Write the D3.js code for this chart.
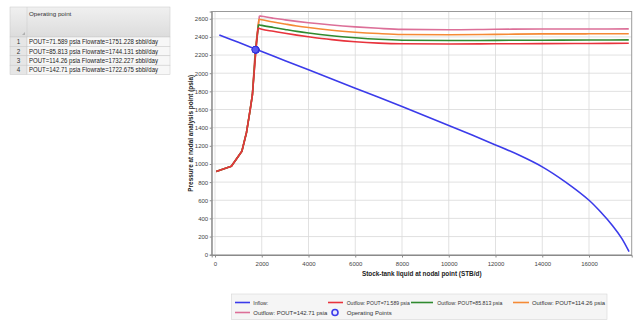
<!DOCTYPE html>
<html>
<head>
<meta charset="utf-8">
<script src="https://cdn.jsdelivr.net/npm/d3@7"></script>
<style>
  html, body { margin: 0; padding: 0; background: #ffffff; }
  svg { display: block; }
  text { font-family: "Liberation Sans", "DejaVu Sans", sans-serif; }
</style>
</head>
<body>
<svg id="chart" width="640" height="325"></svg>
<script>
// ---- data ----
const tableRows = [
  "POUT=71.589 psia Flowrate=1751.228 sbbl/day",
  "POUT=85.813 psia Flowrate=1744.131 sbbl/day",
  "POUT=114.26 psia Flowrate=1732.227 sbbl/day",
  "POUT=142.71 psia Flowrate=1722.675 sbbl/day"
];

const xTicks = [0, 2000, 4000, 6000, 8000, 10000, 12000, 14000, 16000];
const yTicks = [0, 200, 400, 600, 800, 1000, 1200, 1400, 1600, 1800, 2000, 2200, 2400, 2600];

// inflow (IPR): [rate STB/d, pressure psia]
const inflow = [
  [185, 2422], [1000, 2340], [2000, 2239], [3000, 2138], [4000, 2037], [5000, 1936],
  [6000, 1835], [7000, 1734], [8000, 1632], [9000, 1529], [10000, 1425], [11000, 1319],
  [12000, 1210], [13000, 1098], [14000, 968], [15000, 800], [16000, 600], [16500, 470],
  [17000, 322], [17400, 180], [17713, 33]
];

// shared low-rate branch of the outflow (VLP) curves
const outflowLow = [[50, 918], [700, 975], [1150, 1140], [1350, 1350], [1500, 1590], [1600, 1760]];

// upper branch of each outflow curve, starting at the operating point crossing
const outflow71 = [
  [1751, 2256], [1840, 2498], [2000, 2484], [2500, 2462], [3000, 2440], [3500, 2420],
  [4000, 2402], [5000, 2370], [6000, 2346], [7000, 2331], [8000, 2324], [10000, 2322],
  [12000, 2324], [14000, 2326], [16000, 2328], [17700, 2330]
];
const outflow85 = [
  [1744, 2257], [1860, 2535], [2000, 2527], [2500, 2504], [3000, 2482], [3500, 2461],
  [4000, 2443], [5000, 2413], [6000, 2391], [7000, 2374], [8000, 2364], [10000, 2360],
  [12000, 2362], [14000, 2364], [16000, 2366], [17700, 2367]
];
const outflow114 = [
  [1732, 2258], [1880, 2595], [2000, 2589], [2500, 2564], [3000, 2542], [3500, 2521],
  [4000, 2503], [5000, 2473], [6000, 2452], [7000, 2437], [8000, 2427], [10000, 2424],
  [12000, 2428], [14000, 2433], [16000, 2434], [17700, 2435]
];
const outflow142 = [
  [1723, 2259], [1900, 2632], [2000, 2627], [2500, 2606], [3000, 2588], [3500, 2571],
  [4000, 2556], [5000, 2531], [6000, 2511], [7000, 2495], [8000, 2483], [10000, 2479],
  [12000, 2484], [14000, 2487], [16000, 2487], [17700, 2488]
];

// operating points: [rate, pressure]
const opRates = [1751.228, 1744.131, 1732.227, 1722.675];
const opPressures = [2256.6, 2257.3, 2258.5, 2259.4];

const seriesNames = ["Inflow:", "Outflow: POUT=71.589 psia", "Outflow: POUT=85.813 psia",
                     "Outflow: POUT=114.26 psia", "Outflow: POUT=142.71 psia", "Operating Points"];
const seriesColors = ["#3b3bea", "#e8333c", "#2f8a2f", "#f58a35", "#dc6f98", "#3b3bea"];

// ---- drawing ----
const svg = d3.select("#chart");

// Left panel: operating point table
const tbl = svg.append("g");
const tX = 10, tW = 160, numW = 17, headY = 7, headH = 30, rowH = 9.4;
const hg = svg.append("defs").append("linearGradient").attr("id", "hdr").attr("x1", 0).attr("x2", 0).attr("y1", 0).attr("y2", 1);
hg.append("stop").attr("offset", 0).attr("stop-color", "#f0f0f0");
hg.append("stop").attr("offset", 1).attr("stop-color", "#dcdcdc");
tbl.append("rect").attr("x", tX).attr("y", headY).attr("width", tW).attr("height", headH)
  .attr("fill", "url(#hdr)").attr("stroke", "#c8c8c8").attr("stroke-width", 0.5);
tbl.append("line").attr("x1", tX + numW).attr("x2", tX + numW).attr("y1", headY).attr("y2", headY + headH)
  .attr("stroke", "#c8c8c8").attr("stroke-width", 0.5);
tbl.append("text").attr("x", tX + numW + 2).attr("y", headY + 9).attr("font-size", 6.2)
  .attr("fill", "#333").text("Operating point");
tbl.append("path").attr("d", `M${tX + numW - 5},${headY + headH - 2} l3,0 l0,-3 z`).attr("fill", "#b0b0b0");

tableRows.forEach((r, i) => {
  const y = headY + headH + i * rowH;
  tbl.append("rect").attr("x", tX).attr("y", y).attr("width", numW).attr("height", rowH)
    .attr("fill", "#e6e6e6").attr("stroke", "#c8c8c8").attr("stroke-width", 0.5);
  tbl.append("rect").attr("x", tX + numW).attr("y", y).attr("width", tW - numW).attr("height", rowH)
    .attr("fill", "#f7f7f7").attr("stroke", "#c8c8c8").attr("stroke-width", 0.5);
  tbl.append("text").attr("x", tX + numW / 2).attr("y", y + rowH - 2.3).attr("text-anchor", "middle")
    .attr("font-size", 6.3).attr("fill", "#333").text(i + 1);
  tbl.append("text").attr("x", tX + numW + 2).attr("y", y + rowH - 2.3).attr("font-size", 6.5)
    .attr("fill", "#222").attr("textLength", 129).attr("lengthAdjust", "spacingAndGlyphs").text(r);
});

// Plot area
const L = 211.7, R = 631.7, T = 11.5, B = 255;
const x = d3.scaleLinear().domain([-141, 17826]).range([L, R]);
const y = d3.scaleLinear().domain([0, 2680]).range([254.7, T]);

const plot = svg.append("g");
plot.append("rect").attr("x", L).attr("y", T).attr("width", R - L).attr("height", B - T)
  .attr("fill", "#ffffff");

// grid
plot.append("g").selectAll("line").data(xTicks).join("line")
  .attr("x1", d => x(d)).attr("x2", d => x(d)).attr("y1", T).attr("y2", B)
  .attr("stroke", "#d9d9d9").attr("stroke-width", 0.8);
plot.append("g").selectAll("line").data(yTicks).join("line")
  .attr("x1", L).attr("x2", R).attr("y1", d => y(d)).attr("y2", d => y(d))
  .attr("stroke", "#d9d9d9").attr("stroke-width", 0.8);

plot.append("rect").attr("x", L).attr("y", T).attr("width", R - L).attr("height", B - T)
  .attr("fill", "none").attr("stroke", "#9a9a9a").attr("stroke-width", 1);

// axes
const xAxis = d3.axisBottom(x).tickValues(xTicks).tickSize(2.5).tickPadding(4).tickFormat(d3.format("d"));
const gx = svg.append("g").attr("transform", `translate(0,${B})`).call(xAxis);
const yAxis = d3.axisLeft(y).tickValues(yTicks).tickSize(2).tickPadding(1.5).tickFormat(d3.format("d"));
const gy = svg.append("g").attr("transform", `translate(${L},0)`).call(yAxis);
[gx, gy].forEach(g => {
  g.select(".domain").attr("stroke", "#8a8a8a");
  g.selectAll(".tick line").attr("stroke", "#8a8a8a");
  g.selectAll(".tick text").attr("font-size", 6).attr("fill", "#444")
    .attr("font-family", "'Liberation Sans', sans-serif");
});

svg.append("text").attr("x", (L + R) / 2).attr("y", 276).attr("text-anchor", "middle")
  .attr("font-size", 6.4).attr("font-weight", "bold").attr("fill", "#222")
  .text("Stock-tank liquid at nodal point (STB/d)");
svg.append("text").attr("transform", `translate(192.5,${(T + B) / 2}) rotate(-90)`)
  .attr("text-anchor", "middle").attr("font-size", 6.4).attr("font-weight", "bold").attr("fill", "#222")
  .text("Pressure at nodal analysis point (psia)");

// curves: outflow rise drawn as straight segments up to the peak, smooth decline after it
const straight = d3.line().x(d => x(d[0])).y(d => y(d[1]));
const smooth = d3.line().x(d => x(d[0])).y(d => y(d[1])).curve(d3.curveMonotoneX);
const iprLine = d3.line().x(d => x(d[0])).y(d => y(d[1])).curve(d3.curveCatmullRom);
const vlp = (upper) => straight(outflowLow.concat(upper.slice(0, 2))) + smooth(upper.slice(1));
const curves = [
  { d: vlp(outflow142), color: seriesColors[4] },
  { d: vlp(outflow114), color: seriesColors[3] },
  { d: vlp(outflow85), color: seriesColors[2] },
  { d: vlp(outflow71), color: seriesColors[1] },
  { d: iprLine(inflow), color: seriesColors[0] }
];
plot.append("g").selectAll("path").data(curves).join("path")
  .attr("d", c => c.d).attr("fill", "none")
  .attr("stroke", c => c.color).attr("stroke-width", 1.6).attr("stroke-linejoin", "round");

// operating points
plot.append("g").selectAll("circle").data(opRates).join("circle")
  .attr("cx", d => x(d)).attr("cy", (d, i) => y(opPressures[i])).attr("r", 3.4)
  .attr("fill", "#5a5af2").attr("stroke", "#2a2ad8").attr("stroke-width", 0.9);

// legend
const lg = svg.append("g");
lg.append("rect").attr("x", 231.5).attr("y", 294).attr("width", 375.5).attr("height", 25.5)
  .attr("fill", "#f5f5f5").attr("stroke", "#d6d6d6").attr("stroke-width", 0.6);
const legendItems = [
  { x1: 235, x2: 250, tx: 253.3, y: 302.5, w: 15 },
  { x1: 328, x2: 343, tx: 346.7, y: 302.5, w: 63 },
  { x1: 411, x2: 433, tx: 437.3, y: 302.5, w: 65 },
  { x1: 513, x2: 529, tx: 532, y: 302.5, w: 73 },
  { x1: 235, x2: 250, tx: 253.3, y: 312.5, w: 74 },
  { x1: 335, x2: 335, tx: 346.7, y: 312.5, w: 45 }
];
seriesNames.forEach((name, i) => {
  const it = legendItems[i];
  if (i === 5) {
    lg.append("circle").attr("cx", it.x1).attr("cy", it.y).attr("r", 3)
      .attr("fill", "#e8e8ff").attr("stroke", seriesColors[i]).attr("stroke-width", 1.6);
  } else {
    lg.append("line").attr("x1", it.x1).attr("x2", it.x2).attr("y1", it.y).attr("y2", it.y)
      .attr("stroke", seriesColors[i]).attr("stroke-width", 1.6);
  }
  lg.append("text").attr("x", it.tx).attr("y", it.y + 2.2).attr("font-size", 6)
    .attr("fill", "#333").attr("textLength", it.w).attr("lengthAdjust", "spacingAndGlyphs").text(name);
});
</script>
</body>
</html>
